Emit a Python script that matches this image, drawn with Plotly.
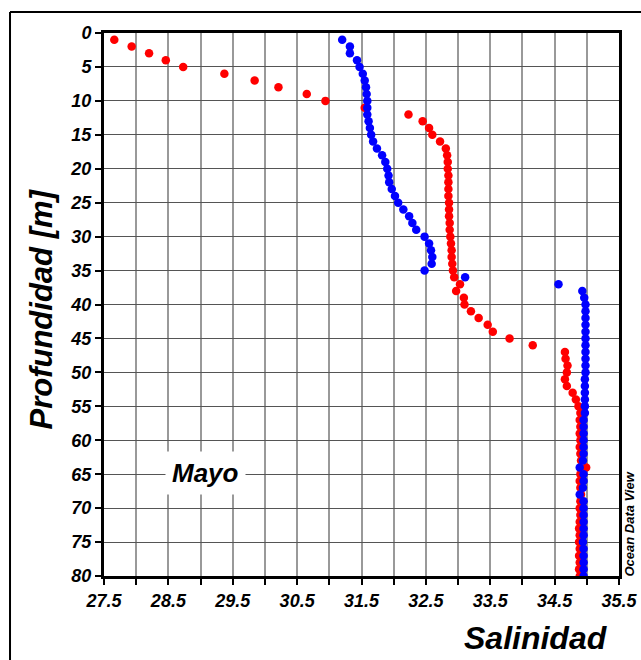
import plotly.graph_objects as go

depth = list(range(1, 81))

sal_red = [27.66, 27.93, 28.20, 28.46, 28.73, 29.37, 29.84, 30.21, 30.65, 30.94,
           31.55, 32.23, 32.45, 32.55, 32.60, 32.72, 32.81, 32.83, 32.84, 32.84,
           32.85, 32.85, 32.85, 32.85, 32.86, 32.86, 32.86, 32.87, 32.87, 32.88,
           32.89, 32.90, 32.90, 32.91, 32.92, 32.94, 33.03, 32.97, 33.09, 33.10,
           33.20, 33.32, 33.46, 33.54, 33.80, 34.16, 34.66, 34.67, 34.70, 34.69,
           34.66, 34.69, 34.78, 34.83, 34.87, 34.90, 34.89, 34.90, 34.89, 34.90,
           34.89, 34.90, 34.91, 34.99, 34.90, 34.89, 34.90, 34.91, 34.90, 34.89,
           34.90, 34.89, 34.88, 34.89, 34.88, 34.89, 34.88, 34.89, 34.88, 34.89]

sal_blue = [31.20, 31.32, 31.32, 31.43, 31.47, 31.52, 31.55, 31.57, 31.58, 31.59,
            31.59, 31.59, 31.61, 31.63, 31.65, 31.68, 31.74, 31.82, 31.87, 31.90,
            31.92, 31.93, 31.97, 32.02, 32.07, 32.15, 32.24, 32.29, 32.35, 32.48,
            32.55, 32.58, 32.60, 32.59, 32.48, 33.11, 34.56, 34.93, 34.96, 34.98,
            34.98, 34.98, 34.98, 34.98, 34.98, 34.98, 34.98, 34.98, 34.98, 34.98,
            34.97, 34.97, 34.97, 34.97, 34.97, 34.97, 34.95, 34.95, 34.95, 34.95,
            34.95, 34.95, 34.94, 34.89, 34.95, 34.95, 34.94, 34.89, 34.95, 34.95,
            34.95, 34.95, 34.95, 34.95, 34.94, 34.95, 34.95, 34.95, 34.95, 34.95]

x_ticks = [27.5, 28.5, 29.5, 30.5, 31.5, 32.5, 33.5, 34.5, 35.5]
y_ticks = list(range(0, 81, 5))

FONT = "Liberation Sans"
tickfont = dict(family=FONT, size=18, color="black", weight="bold", style="italic")

fig = go.Figure()
fig.add_trace(go.Scatter(x=sal_red, y=depth, mode="markers",
                         marker=dict(color="#FF0000", size=8.5, line=dict(width=0)),
                         showlegend=False, cliponaxis=True))
fig.add_trace(go.Scatter(x=sal_blue, y=depth, mode="markers",
                         marker=dict(color="#0000FF", size=8.5, line=dict(width=0)),
                         showlegend=False, cliponaxis=True))

fig.update_xaxes(range=[27.5, 35.5], tickvals=x_ticks, ticktext=[str(v) for v in x_ticks],
                 ticks="outside", ticklen=6, tickcolor="black", tickwidth=1.5,
                 tickfont=tickfont, showgrid=True, gridcolor="#999999", gridwidth=1.5,
                 minor=dict(dtick=0.5, tick0=27.5, ticks="outside", ticklen=6, tickcolor="black",
                            showgrid=True, gridcolor="#999999", gridwidth=1.5),
                 showline=True, linecolor="black", linewidth=3, mirror=True,
                 zeroline=False)
fig.update_yaxes(range=[80, 0], tickvals=y_ticks, ticktext=[str(v) for v in y_ticks],
                 ticks="outside", ticklen=6, tickcolor="black", tickwidth=1.5,
                 tickfont=tickfont, showgrid=True, gridcolor="#555555", gridwidth=1.2,
                 showline=True, linecolor="black", linewidth=3, mirror=True,
                 zeroline=False)

fig.add_annotation(text="Profundidad [m]", xref="paper", yref="paper",
                   x=-0.1204, y=0.4926, textangle=-90, showarrow=False,
                   xanchor="center", yanchor="middle",
                   font=dict(family=FONT, size=31, color="black", weight="bold", style="italic"))
fig.add_annotation(text="Salinidad", xref="paper", yref="paper",
                   x=0.8388, y=-0.1133, showarrow=False,
                   xanchor="center", yanchor="middle",
                   font=dict(family=FONT, size=32, color="black", weight="bold", style="italic"))
fig.add_annotation(text="Ocean Data View", xref="paper", yref="paper",
                   x=1.0214, y=0.0948, textangle=-90, showarrow=False,
                   xanchor="center", yanchor="middle",
                   font=dict(family=FONT, size=13, color="black", weight="bold", style="italic"))
fig.add_annotation(text="Mayo", xref="x", yref="y", x=29.08, y=64.8, showarrow=False,
                   xanchor="center", yanchor="middle", bgcolor="white", borderpad=6,
                   font=dict(family=FONT, size=26, color="black", weight="bold", style="italic"))

# outer frame (left and top edges visible)
fig.add_shape(type="line", xref="paper", yref="paper", x0=-0.1825, x1=-0.1825,
              y0=-0.3, y1=1.0387, line=dict(color="black", width=2))
fig.add_shape(type="line", xref="paper", yref="paper", x0=-0.1825, x1=1.3,
              y0=1.0387, y1=1.0387, line=dict(color="black", width=2))

fig.update_layout(width=641, height=660, autosize=False,
                  margin=dict(l=104, r=22, t=33, b=84, autoexpand=False),
                  paper_bgcolor="white", plot_bgcolor="white")

fig.write_html("out.html", config={"displayModeBar": False, "responsive": False},
               post_script="document.body.style.margin='0';document.body.style.overflow='hidden';")
